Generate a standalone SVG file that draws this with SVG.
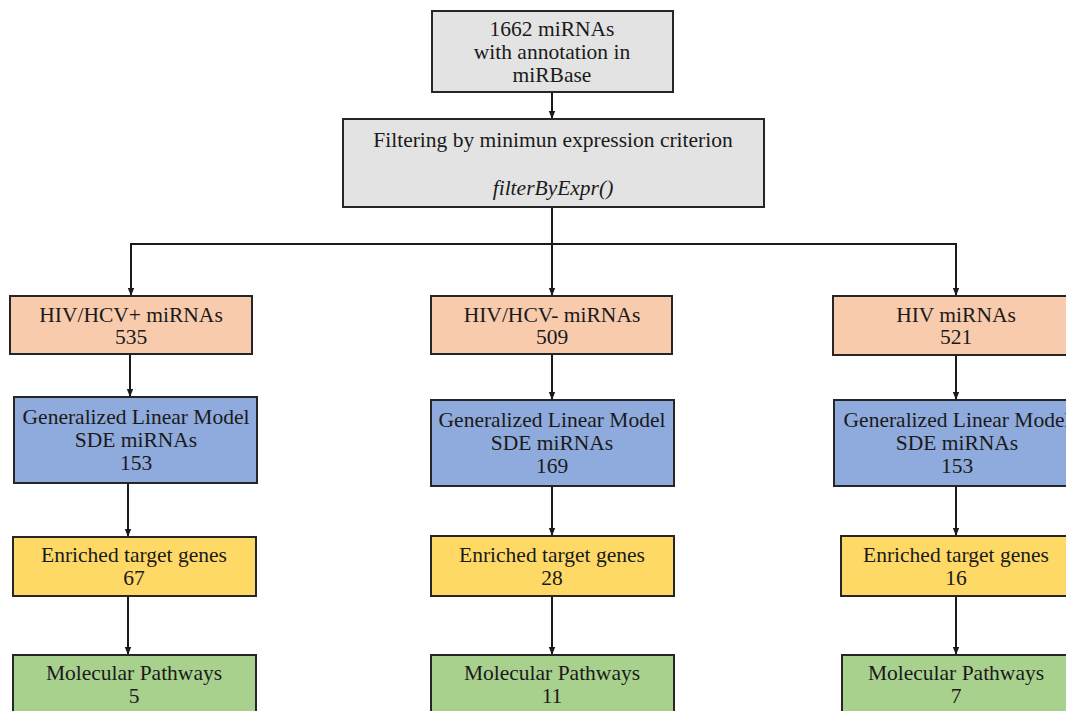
<svg xmlns="http://www.w3.org/2000/svg" width="1066" height="711" viewBox="0 0 1066 711">
<defs>
<marker id="ah" viewBox="0 0 10 10" refX="10" refY="5" markerWidth="4" markerHeight="4" orient="auto" markerUnits="strokeWidth">
<path d="M0,1 L10,5 L0,9 z" fill="#1a1a1a"/>
</marker>
<style>
.box{stroke:#262626;stroke-width:2}
.gray{fill:#e3e3e3}
.org{fill:#f8cbad}
.blu{fill:#8faadc}
.yel{fill:#ffd966}
.grn{fill:#a9d18e}
text{font-family:"Liberation Serif","Times New Roman",serif;font-size:21.5px;fill:#1a1a1a;text-anchor:middle}
.it{font-style:italic}
.con{fill:none;stroke:#1a1a1a;stroke-width:2}
</style>
</defs>
<rect width="1066" height="711" fill="#ffffff"/>

<g id="connectors">
<line class="con" x1="552" y1="92" x2="552" y2="119" marker-end="url(#ah)"/>
<line class="con" x1="552" y1="207" x2="552" y2="244"/>
<polyline class="con" points="131,296 131,244 956,244 956,296"/>
<line class="con" x1="131" y1="244" x2="131" y2="296" marker-end="url(#ah)"/>
<line class="con" x1="552" y1="244" x2="552" y2="296" marker-end="url(#ah)"/>
<line class="con" x1="956" y1="244" x2="956" y2="296" marker-end="url(#ah)"/>
<line class="con" x1="130" y1="354" x2="130" y2="397" marker-end="url(#ah)"/>
<line class="con" x1="552" y1="354" x2="552" y2="400" marker-end="url(#ah)"/>
<line class="con" x1="956" y1="355" x2="956" y2="400" marker-end="url(#ah)"/>
<line class="con" x1="128" y1="483" x2="128" y2="537" marker-end="url(#ah)"/>
<line class="con" x1="552" y1="486" x2="552" y2="536" marker-end="url(#ah)"/>
<line class="con" x1="956" y1="486" x2="956" y2="536" marker-end="url(#ah)"/>
<line class="con" x1="128" y1="596" x2="128" y2="655" marker-end="url(#ah)"/>
<line class="con" x1="552" y1="596" x2="552" y2="655" marker-end="url(#ah)"/>
<line class="con" x1="956" y1="596" x2="956" y2="655" marker-end="url(#ah)"/>
</g>

<g id="n-root">
<rect class="box gray" x="432" y="11" width="241" height="81"/>
<text x="552" y="36">1662 miRNAs</text>
<text x="552" y="59">with annotation in</text>
<text x="552" y="82">miRBase</text>
</g>

<g id="n-filter">
<rect class="box gray" x="343" y="119" width="421" height="88"/>
<text x="553" y="147">Filtering by minimun expression criterion</text>
<text x="553" y="195" class="it">filterByExpr()</text>
</g>

<g id="n-hivhcvpos">
<rect class="box org" x="10" y="296" width="242" height="58"/>
<text x="131" y="322">HIV/HCV+ miRNAs</text>
<text x="131" y="344">535</text>
</g>
<g id="n-hivhcvneg">
<rect class="box org" x="431" y="296" width="241" height="58"/>
<text x="552" y="322">HIV/HCV- miRNAs</text>
<text x="552" y="344">509</text>
</g>
<g id="n-hiv">
<rect class="box org" x="833" y="296" width="246" height="59"/>
<text x="956" y="322">HIV miRNAs</text>
<text x="956" y="344">521</text>
</g>

<g id="n-glm1">
<rect class="box blu" x="14" y="397" width="243" height="86"/>
<text x="136" y="424">Generalized Linear Model</text>
<text x="136" y="447">SDE miRNAs</text>
<text x="136" y="470">153</text>
</g>
<g id="n-glm2">
<rect class="box blu" x="431" y="400" width="243" height="86"/>
<text x="552" y="427">Generalized Linear Model</text>
<text x="552" y="450">SDE miRNAs</text>
<text x="552" y="473">169</text>
</g>
<g id="n-glm3">
<rect class="box blu" x="834" y="400" width="245" height="86"/>
<text x="957" y="427">Generalized Linear Model</text>
<text x="957" y="450">SDE miRNAs</text>
<text x="957" y="473">153</text>
</g>

<g id="n-genes1">
<rect class="box yel" x="13" y="537" width="243" height="59"/>
<text x="134" y="562">Enriched target genes</text>
<text x="134" y="585">67</text>
</g>
<g id="n-genes2">
<rect class="box yel" x="431" y="536" width="243" height="60"/>
<text x="552" y="562">Enriched target genes</text>
<text x="552" y="585">28</text>
</g>
<g id="n-genes3">
<rect class="box yel" x="841" y="536" width="238" height="60"/>
<text x="956" y="562">Enriched target genes</text>
<text x="956" y="585">16</text>
</g>

<g id="n-path1">
<rect class="box grn" x="13" y="655" width="243" height="70"/>
<text x="134" y="680">Molecular Pathways</text>
<text x="134" y="703">5</text>
</g>
<g id="n-path2">
<rect class="box grn" x="431" y="655" width="243" height="70"/>
<text x="552" y="680">Molecular Pathways</text>
<text x="552" y="703">11</text>
</g>
<g id="n-path3">
<rect class="box grn" x="842" y="655" width="237" height="70"/>
<text x="956" y="680">Molecular Pathways</text>
<text x="956" y="703">7</text>
</g>
</svg>
